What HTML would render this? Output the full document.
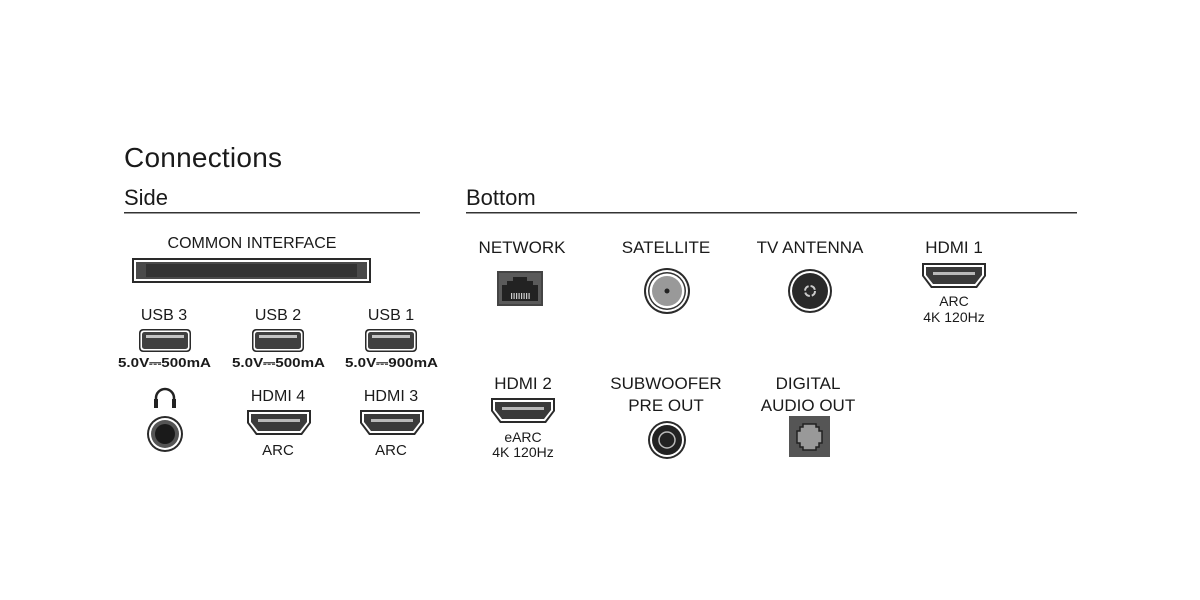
<!DOCTYPE html>
<html><head><meta charset="utf-8"><style>
html,body{margin:0;padding:0;background:#fff;}
svg{display:block;}
text{font-family:"Liberation Sans",sans-serif;fill:#1a1a1a;}
</style></head><body>
<svg width="1200" height="600" viewBox="0 0 1200 600" xmlns="http://www.w3.org/2000/svg">
<defs>
  <g id="hdmi">
    <path d="M0,0 H64 V13 L55,25 H9 L0,13 Z" fill="#2a2a2a"/>
    <path d="M2,2 H62 V12.5 L54,23 H10 L2,12.5 Z" fill="#fff"/>
    <path d="M4,4 H60 V12 L53,21 H11 L4,12 Z" fill="#3a3a3a"/>
    <rect x="11" y="9" width="42" height="3" fill="#b8b8b8"/>
  </g>
  <g id="usb">
    <rect x="0" y="0" width="52" height="23" rx="4" fill="#2a2a2a"/>
    <rect x="1.5" y="1.5" width="49" height="20" rx="3" fill="#fff"/>
    <rect x="3" y="3" width="46" height="17" rx="2.5" fill="#404040"/>
    <rect x="7" y="6" width="38" height="3" fill="#c4c4c4"/>
  </g>
</defs>

<text x="124" y="167" font-size="28" fill="#222" textLength="158">Connections</text>
<text x="124" y="205" font-size="22">Side</text>
<rect x="124" y="212" width="296" height="1.5" fill="#333"/>
<text x="466" y="205" font-size="22">Bottom</text>
<rect x="466" y="212" width="611" height="1.5" fill="#333"/>

<!-- Side -->
<text x="252" y="248" font-size="16" text-anchor="middle">COMMON INTERFACE</text>
<rect x="132" y="258" width="239" height="25" fill="#2a2a2a"/>
<rect x="134" y="260" width="235" height="21" fill="#fff"/>
<rect x="136" y="262" width="231" height="17" fill="#4a4a4a"/>
<rect x="146" y="264" width="211" height="13" fill="#333"/>

<g font-size="16" text-anchor="middle">
<text x="164" y="320">USB 3</text>
<text x="278" y="320">USB 2</text>
<text x="391" y="320">USB 1</text>
<text x="278" y="401">HDMI 4</text>
<text x="391" y="401">HDMI 3</text>
</g>
<use href="#usb" x="139" y="329"/>
<use href="#usb" x="252" y="329"/>
<use href="#usb" x="365" y="329"/>
<g font-size="12.5" font-weight="bold">
<text x="118" y="367" textLength="93" lengthAdjust="spacingAndGlyphs">5.0V⎓500mA</text>
<text x="232" y="367" textLength="93" lengthAdjust="spacingAndGlyphs">5.0V⎓500mA</text>
<text x="345" y="367" textLength="93" lengthAdjust="spacingAndGlyphs">5.0V⎓900mA</text>
</g>
<!-- headphone -->
<path d="M156,404 V398 A9,9 0 0 1 174,398 V404" fill="none" stroke="#222" stroke-width="2.5"/>
<rect x="154" y="399" width="4" height="9" fill="#222"/>
<rect x="172" y="399" width="4" height="9" fill="#222"/>
<circle cx="165" cy="434" r="18" fill="#2a2a2a"/>
<circle cx="165" cy="434" r="16" fill="#fff"/>
<circle cx="165" cy="434" r="14" fill="#555"/>
<circle cx="165" cy="434" r="10" fill="#1a1a1a"/>
<use href="#hdmi" x="247" y="410"/>
<use href="#hdmi" x="360" y="410"/>
<g font-size="15" text-anchor="middle">
<text x="278" y="455">ARC</text>
<text x="391" y="455">ARC</text>
</g>

<!-- Bottom -->
<g font-size="17" text-anchor="middle">
<text x="522" y="253">NETWORK</text>
<text x="666" y="253">SATELLITE</text>
<text x="810" y="253">TV ANTENNA</text>
<text x="954" y="253">HDMI 1</text>
<text x="523" y="389">HDMI 2</text>
<text x="666" y="389">SUBWOOFER</text>
<text x="666" y="411">PRE OUT</text>
<text x="808" y="389">DIGITAL</text>
<text x="808" y="411">AUDIO OUT</text>
</g>
<!-- RJ45 -->
<rect x="497" y="271" width="46" height="35" fill="#444"/>
<rect x="499" y="273" width="42" height="31" fill="#5a5a5a"/>
<path d="M502,301 V285 H507 V281 H513 V277 H527 V281 H533 V285 H538 V301 Z" fill="#222"/>
<g fill="#ccc"><rect x="511" y="293" width="1.2" height="6"/><rect x="513.5" y="293" width="1.2" height="6"/><rect x="516" y="293" width="1.2" height="6"/><rect x="518.5" y="293" width="1.2" height="6"/><rect x="521" y="293" width="1.2" height="6"/><rect x="523.5" y="293" width="1.2" height="6"/><rect x="526" y="293" width="1.2" height="6"/><rect x="528.5" y="293" width="1.2" height="6"/></g>
<!-- satellite -->
<circle cx="667" cy="291" r="23" fill="#2a2a2a"/>
<circle cx="667" cy="291" r="21" fill="#fff"/>
<circle cx="667" cy="291" r="19" fill="#333"/>
<circle cx="667" cy="291" r="17.5" fill="#fff"/>
<circle cx="667" cy="291" r="15" fill="#999"/>
<circle cx="667" cy="291" r="2.5" fill="#222"/>
<!-- antenna -->
<circle cx="810" cy="291" r="22" fill="#2a2a2a"/>
<circle cx="810" cy="291" r="20" fill="#fff"/>
<circle cx="810" cy="291" r="18" fill="#2a2a2a"/>
<circle cx="810" cy="291" r="5" fill="none" stroke="#ccc" stroke-width="2" stroke-dasharray="6 2"/>
<!-- HDMI 1 -->
<use href="#hdmi" x="922" y="263"/>
<g font-size="14" text-anchor="middle">
<text x="954" y="306">ARC</text>
<text x="954" y="322">4K 120Hz</text>
</g>
<!-- HDMI 2 -->
<use href="#hdmi" x="491" y="398"/>
<g font-size="14" text-anchor="middle">
<text x="523" y="442">eARC</text>
<text x="523" y="457">4K 120Hz</text>
</g>
<!-- subwoofer -->
<circle cx="667" cy="440" r="19" fill="#2a2a2a"/>
<circle cx="667" cy="440" r="17" fill="#fff"/>
<circle cx="667" cy="440" r="15" fill="#222"/>
<circle cx="667" cy="440" r="8" fill="none" stroke="#bbb" stroke-width="1.5"/>
<!-- optical -->
<rect x="789" y="416" width="41" height="41" fill="#555"/>
<path d="M803,424 H816 V427 H819 V431 H822 V443 H819 V447 H816 V450 H803 V447 H800 V443 H797 V431 H800 V427 H803 Z" fill="#999" stroke="#222" stroke-width="1.5"/>
</svg>
</body></html>
